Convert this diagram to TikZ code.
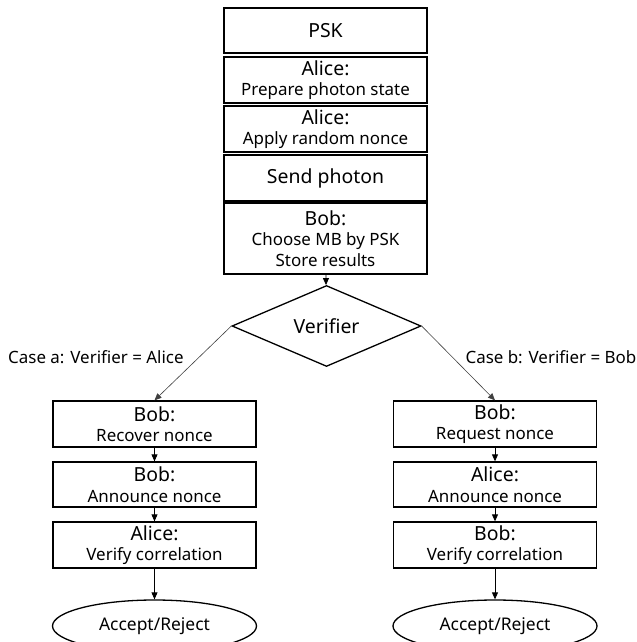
\documentclass[tikz,border=0pt]{standalone}
\usepackage{fontspec}
\setmainfont{Noto Sans}
\usetikzlibrary{shapes.geometric,arrows.meta}
\newcommand\hdfont{\fontsize{19.5}{20.5}\selectfont}
\begin{document}
\begin{tikzpicture}[x=1bp,y=-1bp,
  box/.style={draw, line width=1.3bp, minimum width=203bp, inner sep=0pt, align=center, font=\fontsize{17}{20.5}\selectfont},
  arr/.style={-{Triangle[length=7bp,width=6bp]}, line width=0.8bp},
  darr/.style={-{Triangle[length=7bp,width=6bp]}, line width=0.6bp, black!75},
  lbl/.style={inner sep=0pt, font=\fontsize{17}{20}\selectfont},
  endst/.style={draw, ellipse, line width=1.3bp, minimum width=204bp, minimum height=52bp, inner sep=0pt, font=\fontsize{17.5}{20}\selectfont}
]
\useasboundingbox (0,0) rectangle (637,642);
% main column
\node[box, minimum height=45bp] (psk) at (325.5,30.5) {\hdfont PSK};
\node[box, minimum height=46bp] (prep) at (325.5,80) {{\hdfont Alice:}\\Prepare photon state};
\node[box, minimum height=46bp] (nonce) at (325.5,129) {{\hdfont Alice:}\\Apply random nonce};
\node[box, minimum height=46bp] (send) at (325.5,178) {\hdfont Send photon};
\node[box, minimum height=71bp] (bob) at (325.5,238.5) {{\hdfont Bob:}\\Choose MB by PSK\\Store results};
\node[draw, diamond, line width=1.3bp, minimum width=189bp, minimum height=66bp, inner sep=0pt, font=\hdfont] (ver) at (326.5,326) {Verifier};
\draw[arr] (bob) -- (ver);
% case a
\node[box, minimum height=46bp] (a1) at (154.5,424) {{\hdfont Bob:}\\Recover nonce};
\node[box, minimum height=45bp] (a2) at (154.5,484.5) {{\hdfont Bob:}\\Announce nonce};
\node[box, minimum height=46bp] (a3) at (154.5,545) {{\hdfont Alice:}\\Verify correlation};
\node[endst] (a4) at (154.5,626) {Accept/Reject};
% case b
\node[box, minimum height=46bp] (b1) at (495,424) {{\hdfont Bob:}\\Request nonce};
\node[box, minimum height=45bp] (b2) at (495,484.5) {{\hdfont Alice:}\\Announce nonce};
\node[box, minimum height=46bp] (b3) at (495,545) {{\hdfont Bob:}\\Verify correlation};
\node[endst] (b4) at (495,626) {Accept/Reject};
% connectors
\draw[darr] (ver.west) -- (a1.north);
\draw[darr] (ver.east) -- (b1.north);
\draw[arr] (a1) -- (a2);
\draw[arr] (a2) -- (a3);
\draw[arr] (a3) -- (a4);
\draw[arr] (b1) -- (b2);
\draw[arr] (b2) -- (b3);
\draw[arr] (b3) -- (b4);
% labels
\node[lbl, anchor=west] (la) at (8,357) {Case a: Verifier = Alice};
\node[lbl, anchor=east] (lb) at (636.5,357) {Case b: Verifier = Bob};
\end{tikzpicture}
\end{document}
